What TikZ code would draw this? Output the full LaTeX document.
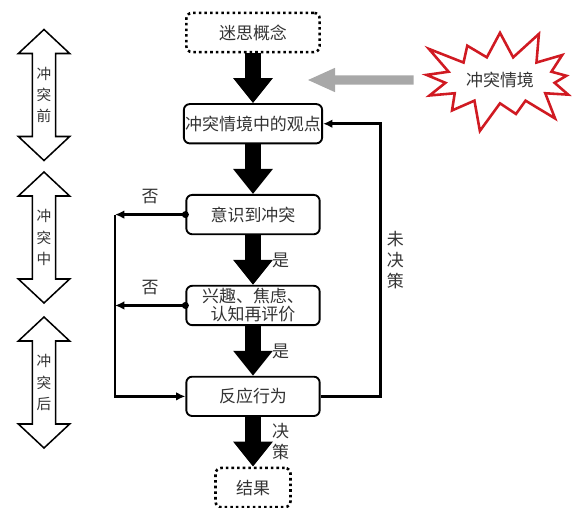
\documentclass[tikz,border=0pt]{standalone}
\usepackage{fontspec}
\newfontfamily\cjk{Noto Sans CJK SC}
\usetikzlibrary{shapes.symbols,arrows.meta,positioning,calc}
\definecolor{BurstRed}{HTML}{D01A22}
\definecolor{ArrowGray}{HTML}{A8A8A8}
\definecolor{TextGray}{HTML}{333333}

\begin{document}
\begin{tikzpicture}[node distance=1.49cm, every node/.style={font=\cjk\fontsize{14.5}{16}\selectfont,text=TextGray},
  box/.style={draw,line width=1.6pt,rounded corners=5pt,minimum width=4cm,minimum height=1.18cm,align=center,inner sep=1pt},
  dotbox/.style={draw,line width=2.2pt,dash pattern=on 2.2pt off 2.6pt,rounded corners=5pt,minimum height=1.18cm,align=center},
  bigarrow/.style={line width=0.48cm,-{Triangle[width=1.14cm,length=0.75cm]}},
  grayarrow/.style={ArrowGray,line width=0.28cm,-{Triangle[width=0.66cm,length=0.84cm]}},
  flow/.style={line width=2.2pt,-{Latex[length=2.8mm,width=2.6mm]}},
  phase/.style={draw,line width=1.3pt,fill=white,line join=miter},
  vtext/.style={align=center,font=\cjk\fontsize{14.5}{18}\selectfont},
  phasetext/.style={align=center,font=\cjk\fontsize{12.5}{18}\selectfont},
  burst/.style={starburst,draw=BurstRed,line width=2.2pt,starburst points=13,starburst point height=1cm,minimum width=5.3cm,minimum height=3.4cm,inner sep=0pt}]
  \useasboundingbox (0,0) rectangle (17.55,-15.21);
  % main chain
  \node[dotbox,minimum width=4cm] (myth) at (7.59,-0.975) {迷思概念};
  \node[box,below=of myth] (view) {冲突情境中的观点};
  \node[box,below=of view] (aware) {意识到冲突};
  \node[box,below=of aware,font=\cjk\fontsize{14.5}{15.5}\selectfont] (emo) {兴趣、焦虑、\\认知再评价};
  \node[box,below=of emo] (react) {反应行为};
  \node[dotbox,minimum width=2.25cm,below=of react] (result) {结果};
  \foreach \a/\b in {myth/view,view/aware,aware/emo,emo/react,react/result}{\draw[bigarrow] (\a) -- (\b);}
  \path (aware) -- (emo) node[midway,right=0.45cm] {是};
  \path (emo) -- (react) node[midway,right=0.45cm] {是};
  \path (react) -- (result) node[midway,right=0.45cm,vtext] {决\\策};
  % conflict situation
  \node[burst] (sit) at (15,-2.4) {冲突情境};
  \coordinate (gtip) at (9.21,-2.4);
  \draw[grayarrow] ([xshift=-0.65cm]sit.west) -- (gtip);
  % no branches
  \coordinate (nohub) at (3.45,0 |- aware.west);
  \coordinate (nohub2) at (3.45,0 |- emo.west);
  \fill (aware.west) circle (3pt);
  \fill (emo.west) circle (3pt);
  \draw[flow] (aware.west) -- node[above=5pt] {否} (nohub);
  \draw[flow] (emo.west) -- node[above=5pt] {否} (nohub2);
  \draw[flow] (nohub) |- (react.west);
  % undecided loop
  \draw[flow] (react.east) -- ++(1.8,0) |- node[pos=0.25,right=1pt,vtext] {未\\决\\策} (view.east);
  % phases
  \foreach \name/\cy/\txt in {pre/-2.85/前,during/-7.125/中,post/-11.475/后}{
    \coordinate (\name) at (1.32,\cy);
    \draw[phase] ($(\name)+(0,1.965)$) -- ++(0.77,-0.72) -- ++(-0.42,0) -- ++(0,-2.49) -- ++(0.42,0) -- ++(-0.77,-0.72)
      -- ++(-0.77,0.72) -- ++(0.42,0) -- ++(0,2.49) -- ++(-0.42,0) -- cycle;
    \node[phasetext] (\name txt) at (\name) {冲\\突\\\txt};
  }
\end{tikzpicture}
\end{document}
